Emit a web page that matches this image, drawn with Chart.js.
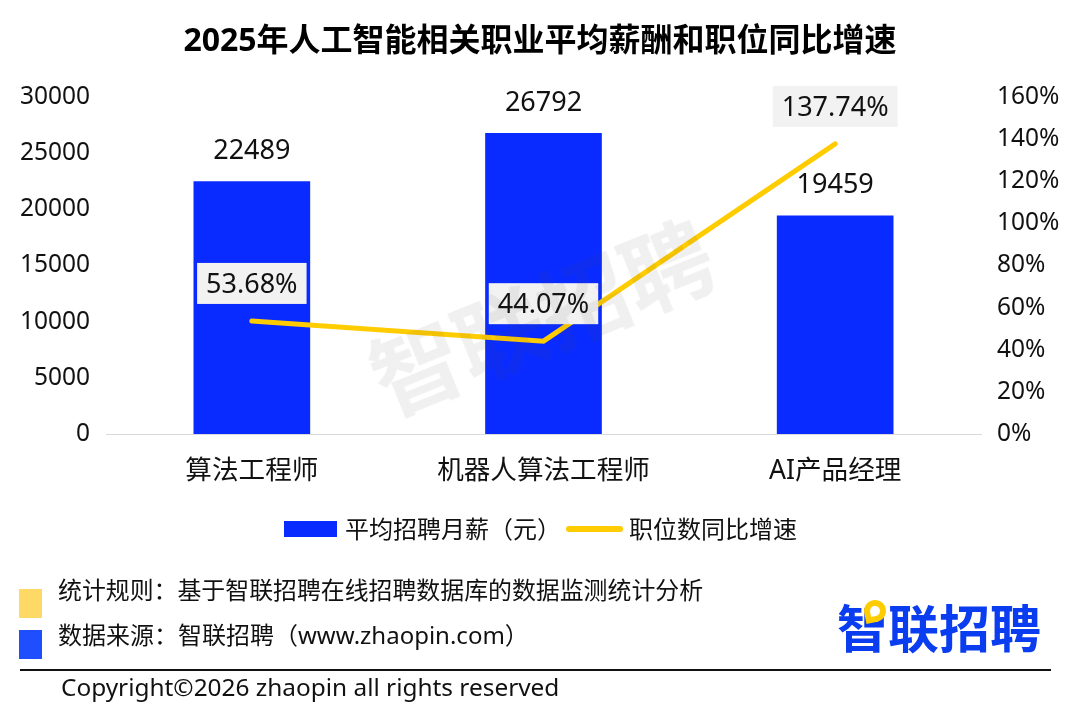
<!DOCTYPE html>
<html lang="zh">
<head>
<meta charset="utf-8">
<title>2025年人工智能相关职业平均薪酬和职位同比增速</title>
<script src="https://cdn.jsdelivr.net/npm/chart.js@4"></script>
<style>
    body { margin: 0; background: #fff; }
    #page { position: relative; width: 1080px; height: 728px; overflow: hidden;
            font-family: "Noto Sans", "Noto Sans CJK SC", sans-serif; color: #111; }
    #page canvas { position: absolute; left: 0; top: 0; }
    .txt { position: absolute; white-space: nowrap; font-size: 24px; line-height: 34px; }
    .box { position: absolute; }
    #watermark { position: absolute; left: 360px; top: 258px; font-size: 90px; line-height: 110px; font-weight: 700;
                 font-family: "Noto Sans CJK SC", sans-serif; white-space: nowrap;
                 color: rgba(60, 60, 60, 0.08); transform: rotate(-22deg); pointer-events: none; }
    #logo { position: absolute; left: 837px; top: 592px; font-size: 51px; line-height: 68px; font-weight: 700;
            font-family: "Noto Sans CJK SC", sans-serif; color: #0a3cf0; white-space: nowrap; }
</style>
</head>
<body>
<div id="page">
    <canvas id="chart" width="1080" height="728"></canvas>
    <div id="watermark">智联招聘</div>

    <!-- legend -->
    <div class="box" style="left:284px; top:521px; width:53px; height:16px; background:#0a2bff"></div>
    <div class="txt" id="legend0" style="left:345px; top:512px"></div>
    <div class="box" style="left:566px; top:526px; width:57px; height:6px; border-radius:3px; background:#ffcc00"></div>
    <div class="txt" id="legend1" style="left:629px; top:512px"></div>

    <!-- footer -->
    <div class="box" style="left:19px; top:589px; width:23px; height:29px; background:#ffd966"></div>
    <div class="txt" style="left:58px; top:573px; font-size:23.9px">统计规则：基于智联招聘在线招聘数据库的数据监测统计分析</div>
    <div class="box" style="left:19px; top:630px; width:23px; height:29px; background:#1f4eff"></div>
    <div class="txt" style="left:58px; top:618px">数据来源：智联招聘（www.zhaopin.com）</div>
    <div id="logo">智联招聘</div>
    <div class="box" style="left:864px; top:600px; width:10px; height:10px; border:6px solid #ffcc00; border-radius:50% 50% 50% 0; background:#fff; transform:rotate(-12deg)"></div>
    <div class="box" style="left:20px; top:669px; width:1031px; height:2px; background:#111"></div>
    <div class="txt" style="left:61px; top:670px; font-size:24.4px">Copyright©2026 zhaopin all rights reserved</div>
</div>

<script>
// Values
const chartTitle = '2025年人工智能相关职业平均薪酬和职位同比增速';
const categories = ['算法工程师', '机器人算法工程师', 'AI产品经理'];
const salaryName = '平均招聘月薪（元）';
const growthName = '职位数同比增速';
const salary = [22489, 26792, 19459];      // monthly salary, left axis
const growth = [53.68, 44.07, 137.74];     // year on year %, right axis

const BLUE = '#0a2bff';
const YELLOW = '#ffcc00';
const FONT = '"Noto Sans", "Noto Sans CJK SC", sans-serif';

document.getElementById('legend0').textContent = salaryName;
document.getElementById('legend1').textContent = growthName;

// Value labels above the bars, and boxed ones above the line points
const valueLabels = {
    id: 'valueLabels',
    afterDatasetsDraw(chart) {
        const ctx = chart.ctx;
        ctx.save();
        ctx.font = '27px ' + FONT;
        ctx.textAlign = 'center';
        ctx.textBaseline = 'middle';

        chart.getDatasetMeta(0).data.forEach((bar, i) => {
            ctx.fillStyle = '#111';
            ctx.fillText(String(salary[i]), bar.x, bar.y - 30);
        });

        chart.getDatasetMeta(1).data.forEach((pt, i) => {
            const text = growth[i].toFixed(2) + '%';
            const w = ctx.measureText(text).width + 18;
            ctx.fillStyle = '#f2f2f2';
            ctx.fillRect(pt.x - w / 2, pt.y - 58, w, 41);
            ctx.fillStyle = '#111';
            ctx.fillText(text, pt.x, pt.y - 36);
        });
        ctx.restore();
    }
};

new Chart(document.getElementById('chart'), {
    type: 'bar',
    data: {
        labels: categories,
        datasets: [
            {
                type: 'bar',
                label: salaryName,
                data: salary,
                backgroundColor: BLUE,
                barPercentage: 0.4,
                categoryPercentage: 1,
                yAxisID: 'y',
                order: 2
            },
            {
                type: 'line',
                label: growthName,
                data: growth,
                borderColor: YELLOW,
                borderWidth: 5,
                borderCapStyle: 'round',
                tension: 0,
                pointRadius: 0,
                yAxisID: 'y1',
                order: 1
            }
        ]
    },
    options: {
        responsive: false,
        animation: false,
        layout: { padding: 0 },
        scales: {
            x: {
                grid: { display: false },
                border: { color: '#d9d9d9', width: 1 },
                ticks: { color: '#111', font: { family: FONT, size: 26.6 }, padding: 13 },
                afterFit(scale) { scale.height = 294; }
            },
            y: {
                position: 'left',
                min: 0,
                max: 30000,
                grid: { display: false },
                border: { display: false },
                ticks: {
                    stepSize: 5000,
                    color: '#111',
                    font: { family: FONT, size: 24.5 },
                    padding: 8,
                    callback: v => String(v)
                },
                afterFit(scale) { scale.width = 106; }
            },
            y1: {
                position: 'right',
                min: 0,
                max: 160,
                grid: { display: false },
                border: { display: false },
                ticks: {
                    stepSize: 20,
                    color: '#111',
                    font: { family: FONT, size: 24.5 },
                    padding: 8,
                    callback: v => v + '%'
                },
                afterFit(scale) { scale.width = 99; }
            }
        },
        plugins: {
            title: {
                display: true,
                text: chartTitle,
                color: '#000',
                font: { family: FONT, size: 32, weight: 'bold', lineHeight: 1.2 },
                padding: { top: 23, bottom: 35.6 }
            },
            legend: { display: false },
            tooltip: { enabled: false }
        }
    },
    plugins: [valueLabels]
});
</script>
</body>
</html>
